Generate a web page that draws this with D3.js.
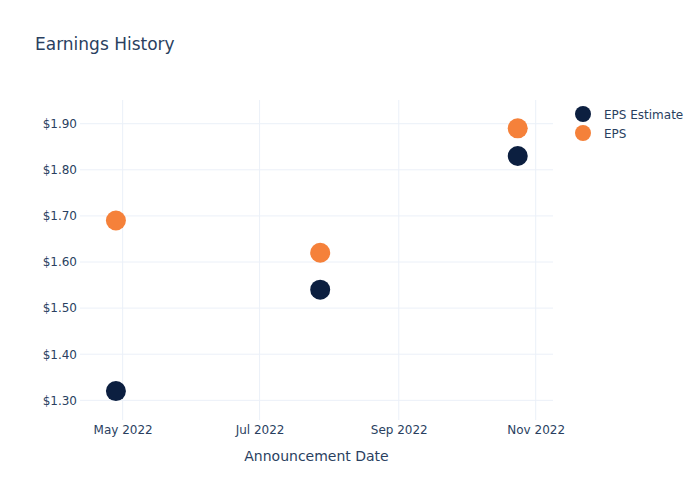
<!DOCTYPE html>
<html>
<head>
<meta charset="utf-8">
<script src="https://cdn.jsdelivr.net/npm/d3@7"></script>
<style>
  body { margin: 0; background: #fff; }
  svg { font-family: "DejaVu Sans", Verdana, sans-serif; }
</style>
</head>
<body>
<figure id="chart" style="margin:0"></figure>
<script>
// data
const dates = ["2022-04-28", "2022-07-28", "2022-10-24"];
const epsEstimate = [1.32, 1.54, 1.83];
const eps = [1.69, 1.62, 1.89];
const seriesNames = ["EPS Estimate", "EPS"];
const seriesColors = ["#0c1f40", "#f5813a"];
const yTicks = [1.3, 1.4, 1.5, 1.6, 1.7, 1.8, 1.9];
const xTicks = ["2022-05-01", "2022-07-01", "2022-09-01", "2022-11-01"];

const width = 700, height = 500;
const margin = { top: 100, right: 147, bottom: 80, left: 80 };
const innerW = width - margin.left - margin.right;
const innerH = height - margin.top - margin.bottom;
const textColor = "#2a3f5f";
const gridColor = "#ebf0f8";

const parse = d3.utcParse("%Y-%m-%d");

const svg = d3.select("figure#chart")
  .append("svg")
  .attr("width", width)
  .attr("height", height);

svg.append("text")
  .attr("x", 35)
  .attr("y", 50)
  .attr("fill", textColor)
  .style("font-size", "17px")
  .text("Earnings History");

const g = svg.append("g")
  .attr("transform", "translate(" + margin.left + "," + margin.top + ")");

const x = d3.scaleUtc()
  .domain([parse("2022-04-12"), new Date(Date.UTC(2022, 10, 8, 17))])
  .range([0, innerW]);

const y = d3.scaleLinear()
  .domain([1.2573, 1.9514])
  .range([innerH, 0]);

// grid
g.append("g")
  .selectAll("line")
  .data(xTicks)
  .enter()
  .append("line")
  .attr("x1", d => x(parse(d)))
  .attr("x2", d => x(parse(d)))
  .attr("y1", 0)
  .attr("y2", innerH)
  .attr("stroke", gridColor)
  .attr("stroke-width", 1);

g.append("g")
  .selectAll("line")
  .data(yTicks)
  .enter()
  .append("line")
  .attr("x1", 0)
  .attr("x2", innerW)
  .attr("y1", d => y(d))
  .attr("y2", d => y(d))
  .attr("stroke", gridColor)
  .attr("stroke-width", 1);

// axes
const xAxis = g.append("g")
  .attr("transform", "translate(0," + innerH + ")")
  .call(d3.axisBottom(x)
    .tickValues(xTicks.map(parse))
    .tickFormat(d3.utcFormat("%b %Y"))
    .tickSize(0)
    .tickPadding(5.5));
xAxis.select(".domain").remove();
xAxis.selectAll("text")
  .attr("fill", textColor)
  .style("font-size", "12px")
  .style("font-family", "DejaVu Sans, sans-serif");

const yAxis = g.append("g")
  .call(d3.axisLeft(y)
    .tickValues(yTicks)
    .tickFormat(d => "$" + d3.format(".2f")(d))
    .tickSize(0)
    .tickPadding(3));
yAxis.select(".domain").remove();
yAxis.selectAll("text")
  .attr("fill", textColor)
  .style("font-size", "12px")
  .style("font-family", "DejaVu Sans, sans-serif");

svg.append("text")
  .attr("x", margin.left + innerW / 2)
  .attr("y", 461)
  .attr("text-anchor", "middle")
  .attr("fill", textColor)
  .style("font-size", "14px")
  .text("Announcement Date");

// markers
const series = [epsEstimate, eps];
series.forEach((vals, si) => {
  g.append("g")
    .selectAll("circle")
    .data(vals)
    .enter()
    .append("circle")
    .attr("cx", (d, i) => x(parse(dates[i])))
    .attr("cy", d => y(d))
    .attr("r", 10)
    .attr("fill", seriesColors[si]);
});

// legend
const legend = svg.append("g")
  .attr("transform", "translate(583,114)");
seriesNames.forEach((name, i) => {
  const item = legend.append("g")
    .attr("transform", "translate(0," + (i * 19) + ")");
  item.append("circle")
    .attr("r", 8)
    .attr("fill", seriesColors[i]);
  item.append("text")
    .attr("x", 21)
    .attr("y", 4.5)
    .attr("fill", textColor)
    .style("font-size", "12px")
    .text(name);
});
</script>
</body>
</html>
